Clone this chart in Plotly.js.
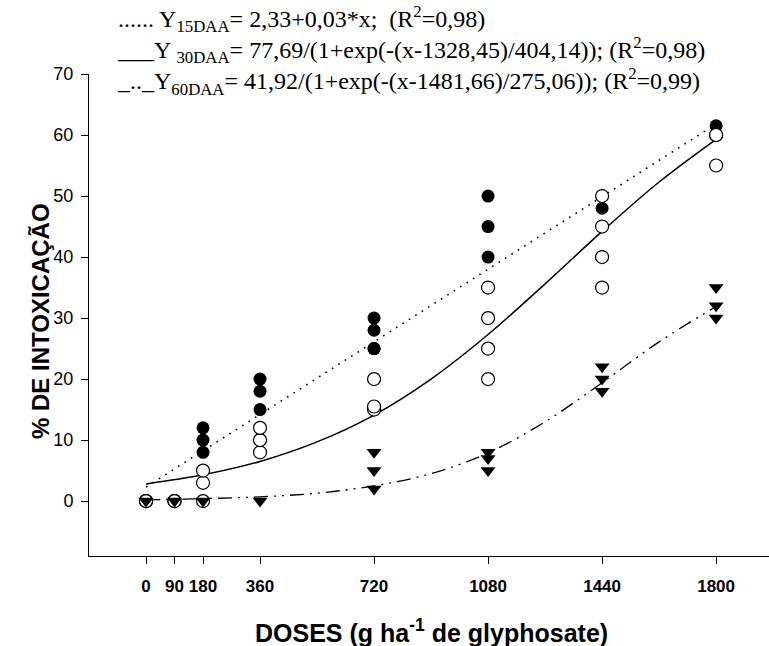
<!DOCTYPE html>
<html>
<head>
<meta charset="utf-8">
<script src="https://cdn.plot.ly/plotly-3.0.1.min.js"></script>
<style>html,body{margin:0;padding:0;background:#fff;}#chart{width:769px;height:646px;}</style>
</head>
<body>
<div id="chart"></div>
<script>
var doses15 = [0,0,0, 90,90,90, 180,180,180, 360,360,360, 720,720,720,720, 1080,1080,1080, 1440, 1800];
var vals15  = [0,0,0, 0,0,0, 8,10,12, 15,18,20, 25,25,28,30, 40,45,50, 48, 61.5];

var doses30 = [0,0,0, 90,90,90, 180,180,180, 360,360,360, 720,720,720, 1080,1080,1080,1080, 1440,1440,1440,1440, 1800,1800,1800];
var vals30  = [0,0,0, 0,0,0, 0,3,5, 8,10,12, 15,15.5,20, 20,25,30,35, 35,40,45,50, 55,60,60];

var doses60 = [0,90,180,360, 720,720,720, 1080,1080,1080, 1440,1440,1440, 1800,1800,1800];
var vals60  = [0,0,0,0, 2,5,8, 5,7,8, 18,20,22, 30,32,35];

// Fitted curves
var fit15X = [0, 1800];
var fit15Y = [2.3, 61.8];
var curveX  = [0,180,360,540,720,900,1080,1260,1440,1620,1800];
var curve30 = [2.8,4.3,6.5,9.7,14.1,20.0,27.3,35.6,44.2,52.3,59.3];
var curve60 = [0.2,0.4,0.7,1.3,2.5,4.5,7.9,13.0,19.4,26.1,31.9];

var tickVals = [0,90,180,360,720,1080,1440,1800];
var tickText = ['0','90','180','360','720','1080','1440','1800'];
var yTicks = [0,10,20,30,40,50,60,70];

var eqLines = [
  '...... Y<sub>15DAA</sub>= 2,33+0,03*x;  (R<sup>2</sup>=0,98)',
  '___Y <sub>30DAA</sub>= 77,69/(1+exp(-(x-1328,45)/404,14)); (R<sup>2</sup>=0,98)',
  '_.._Y<sub>60DAA</sub>= 41,92/(1+exp(-(x-1481,66)/275,06)); (R<sup>2</sup>=0,99)'
];

var traces = [
  {x: fit15X, y: fit15Y, mode:'lines', line:{color:'#000', width:1.6, dash:'1.6px,6px'}, hoverinfo:'skip'},
  {x: curveX, y: curve30, mode:'lines', line:{color:'#000', width:1.5, shape:'spline'}, hoverinfo:'skip'},
  {x: curveX, y: curve60, mode:'lines', line:{color:'#000', width:1.3, shape:'spline', dash:'14px,6px,2px,6px,2px,6px'}, hoverinfo:'skip'},
  {x: doses15, y: vals15, mode:'markers', marker:{symbol:'circle', size:13, color:'#000', line:{width:0}}},
  {x: doses30, y: vals30, mode:'markers', marker:{symbol:'circle', size:13, color:'#fff', line:{width:1.2, color:'#000'}}},
  {x: doses60, y: vals60, mode:'markers', marker:{symbol:'triangle-down', size:13, color:'#000', line:{width:0}}}
];

var L = 89, T = 74, R = 769, B = 556;
function px(x){ return (x - L)/(R - L); }
function py(y){ return (B - y)/(B - T); }

var legendFont = {family:'"Liberation Serif", "Times New Roman", serif', size:24, color:'#000'};

var layout = {
  width:769, height:646,
  margin:{l:L, r:769-R, t:T, b:646-B, pad:0},
  paper_bgcolor:'#fff', plot_bgcolor:'#fff',
  showlegend:false,
  xaxis:{
    range:[-180, 1967], tickvals:tickVals, ticktext:tickText,
    showgrid:false, zeroline:false, showline:true, linecolor:'#000', linewidth:1,
    ticks:'outside', ticklen:7, tickcolor:'#000', tickwidth:1,
    tickfont:{family:'"Liberation Sans", Arial, sans-serif', size:17, color:'#000', weight:'bold'},
    ticklabelstandoff:8
  },
  yaxis:{
    range:[-9, 70], tickvals:yTicks,
    showgrid:false, zeroline:false, showline:true, linecolor:'#000', linewidth:1,
    ticks:'outside', ticklen:7, tickcolor:'#000', tickwidth:1,
    tickfont:{family:'"Liberation Sans", Arial, sans-serif', size:18, color:'#000'},
    ticklabelstandoff:4
  },
  annotations:[
    {xref:'paper', yref:'paper', x:px(115), y:py(51), xanchor:'left', yanchor:'middle', align:'left', showarrow:false, font:legendFont,
     text:eqLines.join('<br>')},
    {xref:'paper', yref:'paper', x:px(431), y:py(631), xanchor:'center', yanchor:'middle', showarrow:false,
     font:{family:'"Liberation Sans", Arial, sans-serif', size:25, color:'#000', weight:'bold'},
     text:'DOSES (g ha<sup>-1</sup> de glyphosate)'},
    {xref:'paper', yref:'paper', x:px(40), y:py(321), xanchor:'center', yanchor:'middle', showarrow:false, textangle:-90,
     font:{family:'"Liberation Sans", Arial, sans-serif', size:24, color:'#000', weight:'bold'},
     text:'% DE INTOXICAÇÃO'}
  ]
};

Plotly.newPlot('chart', traces, layout, {staticPlot:true, displayModeBar:false});
</script>
</body>
</html>
